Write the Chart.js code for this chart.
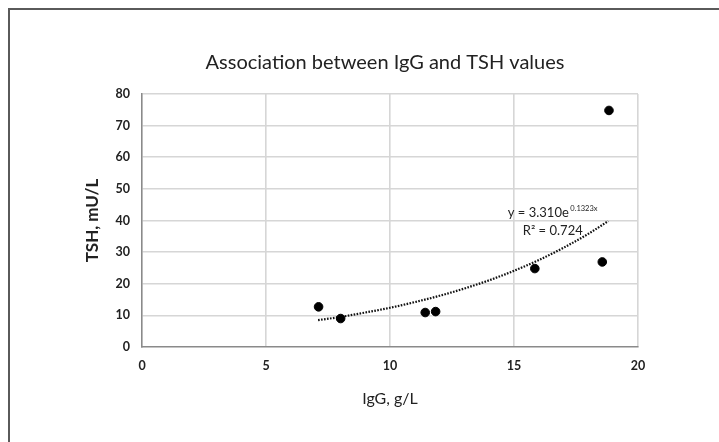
<!DOCTYPE html>
<html>
<head>
<meta charset="utf-8">
<script src="https://cdn.jsdelivr.net/npm/chart.js@4/dist/chart.umd.min.js"></script>
<style>
  html,body{margin:0;padding:0;background:#fff}
  #wrap{position:relative;width:719px;height:442px;overflow:hidden}
  #frame{position:absolute;left:8px;top:8px;width:800px;height:500px;border-left:2px solid #5a5a5a;border-top:2px solid #5a5a5a}
  canvas{position:absolute;left:0;top:0}
</style>
</head>
<body>
<div id="wrap">
  <div id="frame"></div>
  <canvas id="chartIgG" width="719" height="442"></canvas>
</div>
<script>
// puntos medidos
const igg = [7.12, 8.01, 11.42, 11.84, 15.84, 18.56, 18.83];
const tsh = [12.7, 9.0, 10.9, 11.2, 24.8, 26.9, 74.8];

// linea de tendencia
const trendX = [7.1, 8, 9, 10, 11, 12, 13, 14, 15, 16, 17, 18, 18.8];
const trendY = [8.5, 9.5, 10.9, 12.4, 14.2, 16.2, 18.5, 21.1, 24.1, 27.5, 31.4, 35.8, 39.8];

const xTicks = [0, 5, 10, 15, 20];
const yTicks = [0, 10, 20, 30, 40, 50, 60, 70, 80];

const titulo = 'Association between IgG and TSH values';
const FONT = 'Lato, "Open Sans", sans-serif';

const textos = {
  id: 'textos',
  afterDatasetsDraw(chart) {
    const {ctx, scales: {x, y}} = chart;
    ctx.save();
    ctx.fillStyle = '#222';
    ctx.textBaseline = 'middle';
    // titulo
    ctx.textAlign = 'center';
    ctx.font = '20px ' + FONT;
    ctx.fillText(titulo, 385, 63);
    // ecuacion de la tendencia
    ctx.textAlign = 'left';
    const px = x.getPixelForValue(14.75), py = y.getPixelForValue(42.4);
    ctx.font = '13px ' + FONT;
    ctx.fillText('y = 3.310e', px, py);
    const w = ctx.measureText('y = 3.310e').width;
    ctx.font = '7.5px ' + FONT;
    ctx.fillText('0.1323x', px + w + 1.5, py - 4.5);
    ctx.font = '13px ' + FONT;
    ctx.fillText('R\u00B2 = 0.724', px + 15, py + 17.5);
    ctx.restore();
  }
};

new Chart(document.getElementById('chartIgG'), {
  type: 'scatter',
  data: {
    datasets: [
      {label: 'Tendencia', data: trendX.map((v, i) => ({x: v, y: trendY[i]})), showLine: true,
        borderColor: '#111', borderWidth: 2.2, borderDash: [1.6, 1.4], pointRadius: 0,
        cubicInterpolationMode: 'monotone', order: 2},
      {label: 'IgG vs TSH', data: igg.map((v, i) => ({x: v, y: tsh[i]})),
        backgroundColor: '#000', borderColor: '#000', pointRadius: 4.3, pointHoverRadius: 4.3, order: 1}
    ]
  },
  options: {
    responsive: false, animation: false, events: [],
    layout: {padding: {left: 0, right: 81, top: 94, bottom: 0}},
    plugins: {legend: {display: false}, tooltip: {enabled: false}, title: {display: false}},
    scales: {
      x: {
        type: 'linear', min: 0, max: 20,
        afterBuildTicks: s => { s.ticks = xTicks.map(v => ({value: v})); },
        afterFit: s => { s.height = 95; },
        grid: {color: ctx => ctx.tick.value === 0 ? 'transparent' : '#d6d6d6', lineWidth: 1.6, drawTicks: false},
        border: {display: true, color: '#8a8a8a', width: 1.6},
        ticks: {color: '#222', padding: 11, font: {family: FONT, size: 12.5, weight: 'bold'}},
        title: {display: true, text: 'IgG, g/L', color: '#222', font: {family: FONT, size: 16}, padding: {top: 34, bottom: 34}}
      },
      y: {
        min: 0, max: 80,
        afterBuildTicks: s => { s.ticks = yTicks.map(v => ({value: v})); },
        afterFit: s => { s.width = 142; },
        grid: {color: ctx => ctx.tick.value === 0 ? 'transparent' : '#d6d6d6', lineWidth: 1.6, drawTicks: false},
        border: {display: true, color: '#8a8a8a', width: 1.6},
        ticks: {color: '#222', padding: 12, font: {family: FONT, size: 12.5, weight: 'bold'}},
        title: {display: true, text: 'TSH, mU/L', color: '#222', font: {family: FONT, size: 17, weight: 'bold'}, padding: {top: 82, bottom: 82}}
      }
    }
  },
  plugins: [textos]
});
</script>
</body>
</html>
